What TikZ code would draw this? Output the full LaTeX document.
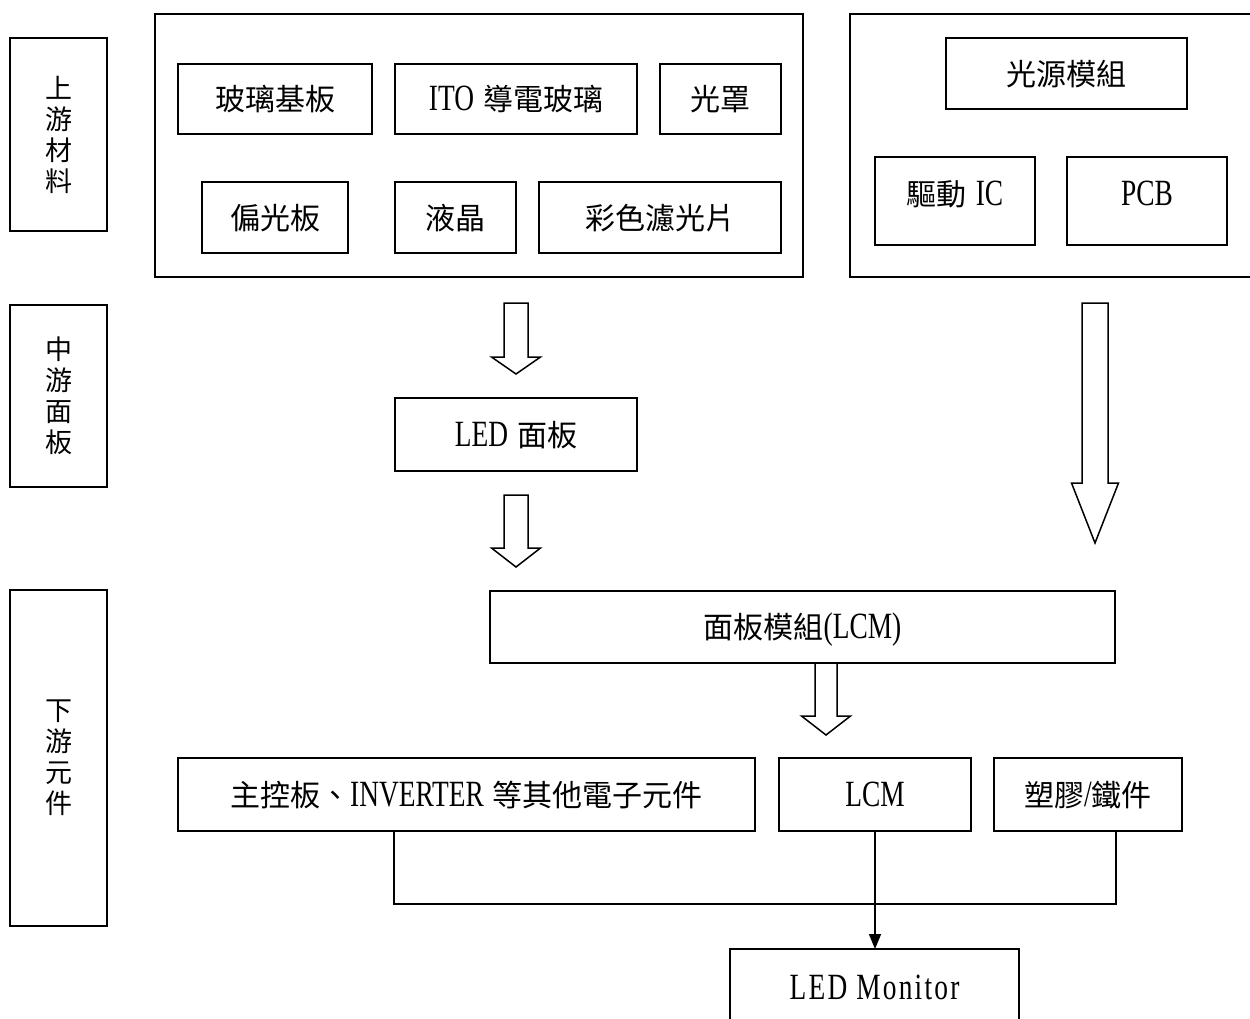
\documentclass[tikz,border=0pt]{standalone}
\usepackage{fontspec}
\setmainfont{Noto Sans CJK TC}
\newfontfamily\lat{Liberation Serif}[FakeStretch=0.74]
\newfontfamily\latw{Liberation Serif}[FakeStretch=0.74,LetterSpace=6]
\usetikzlibrary{arrows.meta}
\newcommand\la[1]{{\fontsize{37}{40}\selectfont\lat #1}}
\newcommand\law[1]{{\fontsize{37}{40}\selectfont\latw #1}}
\newcommand\blockarr[6]{%
  \draw[blk] (#1-#5,#2) -- (#1+#5,#2) -- (#1+#5,#3) -- (#1+#6,#3) -- (#1,#4) -- (#1-#6,#3) -- (#1-#5,#3) -- cycle;}
\begin{document}
\begin{tikzpicture}[x=1pt,y=-1pt,
  line width=1.6pt,
  box/.style={draw, inner sep=0pt, text height=27pt, text depth=4pt, font=\fontsize{30}{36}\selectfont},
  hibox/.style={box, text depth=18pt},
  side/.style={draw, inner sep=0pt, align=center, minimum width=97, font=\fontsize{27}{31}\selectfont},
  frame/.style={draw, inner sep=0pt},
  blk/.style={line width=1.5pt, line join=miter, fill=white},
  conn/.style={line width=1.5pt},
]
\useasboundingbox (0,0) rectangle (1250,1018);

% stage labels
\node[side, minimum height=193] (up) at (58.5,134.5) {上\\游\\材\\料};
\node[side, minimum height=182] (mid) at (58.5,396) {中\\游\\面\\板};
\node[side, minimum height=336] (down) at (58.5,758) {下\\游\\元\\件};

% upstream frames
\node[frame, minimum width=648, minimum height=263] (frameA) at (479,145.5) {};
\draw (1252,14) -| (850,277) -- (1252,277);

\node[box, minimum width=194, minimum height=70] (glass) at (275,99) {玻璃基板};
\node[box, minimum width=242, minimum height=70] (ito) at (516,99) {\la{ITO}\hspace{9pt}導電玻璃};
\node[box, minimum width=121, minimum height=70] (mask) at (720.5,99) {光罩};
\node[box, minimum width=146, minimum height=71] (pol) at (275,217.5) {偏光板};
\node[box, minimum width=121, minimum height=71] (lc) at (455.5,217.5) {液晶};
\node[box, minimum width=242, minimum height=71] (cf) at (660,217.5) {彩色濾光片};

\node[box, minimum width=241, minimum height=71] (light) at (1066.5,73.5) {光源模組};
\node[hibox, minimum width=160, minimum height=88] (drv) at (955,201) {驅動\hspace{9pt}\la{IC}};
\node[hibox, minimum width=160, minimum height=88] (pcb) at (1147,201) {\la{PCB}};

% midstream
\node[box, minimum width=242, minimum height=73] (panel) at (516,434.5) {\la{LED}\hspace{9pt}面板};

% downstream
\node[box, minimum width=625, minimum height=72] (lcmmod) at (802.5,627) {面板模組\la{(LCM)}};
\node[box, minimum width=577, minimum height=73] (main) at (466.5,794.5) {主控板、\la{INVERTER}\hspace{9pt}等其他電子元件};
\node[box, minimum width=192, minimum height=73] (lcm) at (875,794.5) {\la{LCM}};
\node[box, minimum width=188, minimum height=73] (plastic) at (1088,794.5) {塑膠\la{/}鐵件};

\node[box, draw=none, minimum width=289, minimum height=60] (monitor) at (874.5,988) {\law{LED Monitor}};
\draw (730,1020) |- (1019,949) -- (1019,1020);
\coordinate (montop) at (875,949);

% block arrows
\blockarr{516}{303}{357}{374}{12}{24.5}
\blockarr{516}{495}{548}{567}{12}{24.5}
\blockarr{1095}{303}{483}{543}{13}{23.5}
\blockarr{826}{663}{716}{735}{11}{24.5}

% connectors
\draw[conn] ([xshift=217pt]main.south west) -- ++(0,72) -| ([xshift=-67pt]plastic.south east);
\draw[conn, -{Triangle[length=15pt,width=12pt]}] (lcm.south) -- (montop);
\end{tikzpicture}
\end{document}
